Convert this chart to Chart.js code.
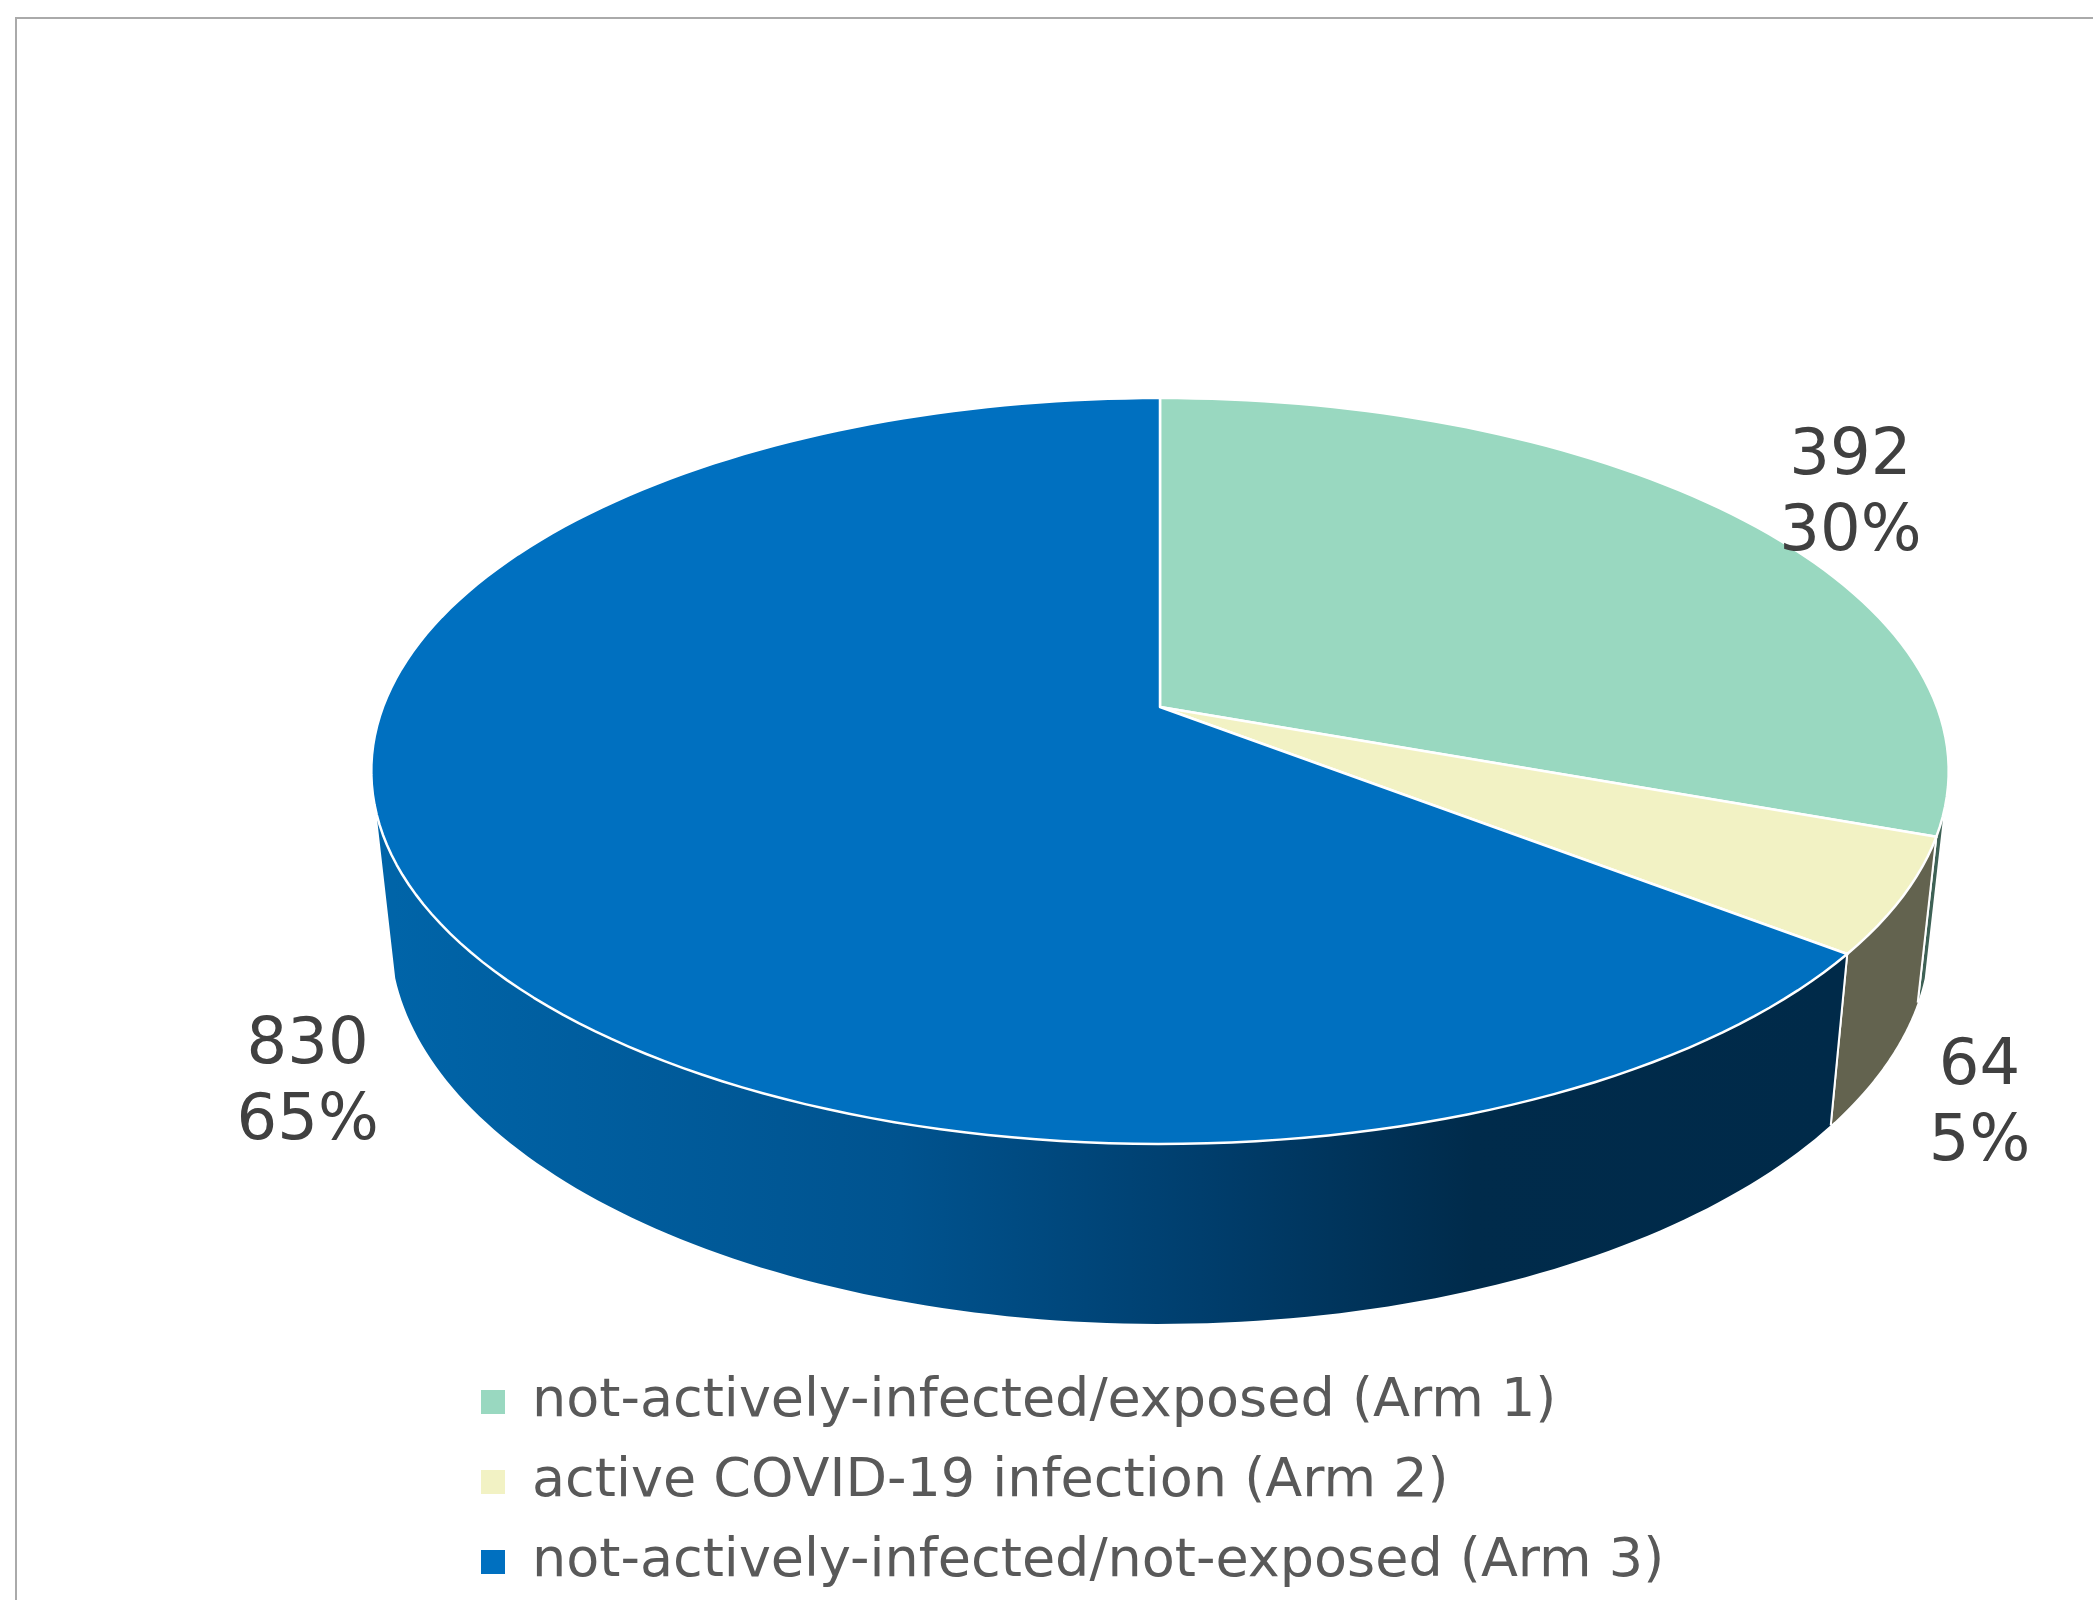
<!DOCTYPE html>
<html>
<head>
<meta charset="utf-8">
<title>Arms</title>
<script src="https://cdn.jsdelivr.net/npm/chart.js@4.4.1/dist/chart.umd.min.js"></script>
<style>
  html, body { margin: 0; padding: 0; background: #fff; overflow: hidden; }
  #frame { position: absolute; left: 15px; top: 17px; width: 2200px; height: 1700px;
           border-left: 2px solid #aaa; border-top: 2px solid #aaa; }
  #myChart { position: absolute; left: 0; top: 0; }
</style>
</head>
<body>
<div id="frame"></div>
<canvas id="myChart" width="2093" height="1600"></canvas>
<script>
// Données
const categories = [
  'not-actively-infected/exposed (Arm 1)',
  'active COVID-19 infection (Arm 2)',
  'not-actively-infected/not-exposed (Arm 3)'
];
const patients = [392, 64, 830];

// Couleurs du dessus et des côtés
const topColors = ['#99d8c0', '#f2f2c4', '#0070c0'];
const sideColors = ['#3e6155', '#63634f', 'gradient'];

// Vue en perspective du camembert 3D
const view = {
  cx: 1160, cy: 707, a: 777, b: 362, k: 0.1716,
  shrinkX: 0.976, stretchY: 1.0456, depth: 160, wallFrom: 0.28
};

function project(angle, r = 1) {
  const u = Math.cos(angle) * r;
  const v = Math.sin(angle) * r;
  const w = 1 - view.k * v;
  return { x: view.cx + view.a * u / w, y: view.cy + view.b * v / w };
}

function under(p) {
  return {
    x: view.cx + (p.x - view.cx) * view.shrinkX,
    y: view.cy + (p.y - view.cy) * view.stretchY + view.depth
  };
}

function blueGradient(ctx) {
  const g = ctx.createLinearGradient(393, 0, 1830, 0);
  g.addColorStop(0, '#0064a8');
  g.addColorStop(0.353, '#00538f');
  g.addColorStop(0.562, '#003e6d');
  g.addColorStop(0.752, '#002b4b');
  g.addColorStop(1, '#002a49');
  return g;
}

const pie3d = {
  id: 'pie3d',
  beforeDatasetsDraw(chart) {
    const ctx = chart.ctx;
    const arcs = chart.getDatasetMeta(0).data;
    const wallStart = Math.asin(view.wallFrom);
    const wallEnd = Math.PI - wallStart;
    const steps = 120;

    ctx.save();
    ctx.lineJoin = 'round';

    // Côtés visibles
    arcs.forEach((arc, i) => {
      const s = Math.max(arc.startAngle, wallStart);
      const e = Math.min(arc.endAngle, wallEnd);
      if (e <= s) return;
      const tops = [];
      for (let j = 0; j <= steps; j++) {
        tops.push(project(s + (e - s) * j / steps));
      }
      ctx.beginPath();
      tops.forEach((p, j) => j ? ctx.lineTo(p.x, p.y) : ctx.moveTo(p.x, p.y));
      for (let j = tops.length - 1; j >= 0; j--) {
        const q = under(tops[j]);
        ctx.lineTo(q.x, q.y);
      }
      ctx.closePath();
      ctx.fillStyle = sideColors[i] === 'gradient' ? blueGradient(ctx) : sideColors[i];
      ctx.fill();

      // arêtes verticales blanches entre les parts
      ctx.strokeStyle = '#ffffff';
      ctx.lineWidth = 2;
      [arc.startAngle, arc.endAngle].forEach(t => {
        if (t > wallStart && t < wallEnd) {
          const p = project(t);
          const q = under(p);
          ctx.beginPath();
          ctx.moveTo(p.x, p.y);
          ctx.lineTo(q.x, q.y);
          ctx.stroke();
        }
      });
    });

    // Dessus
    arcs.forEach((arc, i) => {
      const s = arc.startAngle;
      const e = arc.endAngle;
      const n = Math.max(8, Math.round(steps * (e - s) / Math.PI));
      const c = project(0, 0);
      ctx.beginPath();
      ctx.moveTo(c.x, c.y);
      for (let j = 0; j <= n; j++) {
        const p = project(s + (e - s) * j / n);
        ctx.lineTo(p.x, p.y);
      }
      ctx.closePath();
      ctx.fillStyle = topColors[i];
      ctx.fill();
      ctx.strokeStyle = '#ffffff';
      ctx.lineWidth = 2.5;
      ctx.stroke();
    });

    // Étiquettes : valeur et pourcentage
    const total = patients.reduce((sum, v) => sum + v, 0);
    ctx.font = '64px "DejaVu Sans"';
    ctx.fillStyle = '#404040';
    ctx.textAlign = 'center';
    ctx.textBaseline = 'middle';
    arcs.forEach((arc, i) => {
      const mid = (arc.startAngle + arc.endAngle) / 2;
      const u = Math.cos(mid);
      const v = Math.sin(mid);
      let anchor = project(mid);
      if (v > view.wallFrom) anchor = under(anchor);
      const lines = [String(patients[i]), Math.round(patients[i] / total * 100) + '%'];
      const halfW = Math.max(...lines.map(l => ctx.measureText(l).width)) / 2;
      const x = anchor.x + u * 50 + Math.sign(u) * halfW;
      const y = anchor.y + v * (v > 0 ? 84 : 39);
      ctx.fillText(lines[0], x, y - 38);
      ctx.fillText(lines[1], x, y + 38);
    });

    ctx.restore();
    return false;
  }
};

const ctx = document.getElementById('myChart').getContext('2d');

const myChart = new Chart(ctx, {
  type: 'pie',
  data: {
    labels: categories,
    datasets: [{
      data: patients,
      backgroundColor: topColors,
      borderWidth: 0
    }]
  },
  options: {
    responsive: false,
    animation: false,
    layout: {
      padding: { left: 455, right: 300, top: 0, bottom: 1 }
    },
    plugins: {
      legend: {
        position: 'bottom',
        align: 'start',
        labels: {
          boxWidth: 24,
          boxHeight: 24,
          padding: 26,
          color: '#595959',
          font: { family: '"DejaVu Sans"', size: 54 }
        }
      },
      tooltip: { enabled: false }
    }
  },
  plugins: [pie3d]
});
</script>
</body>
</html>
